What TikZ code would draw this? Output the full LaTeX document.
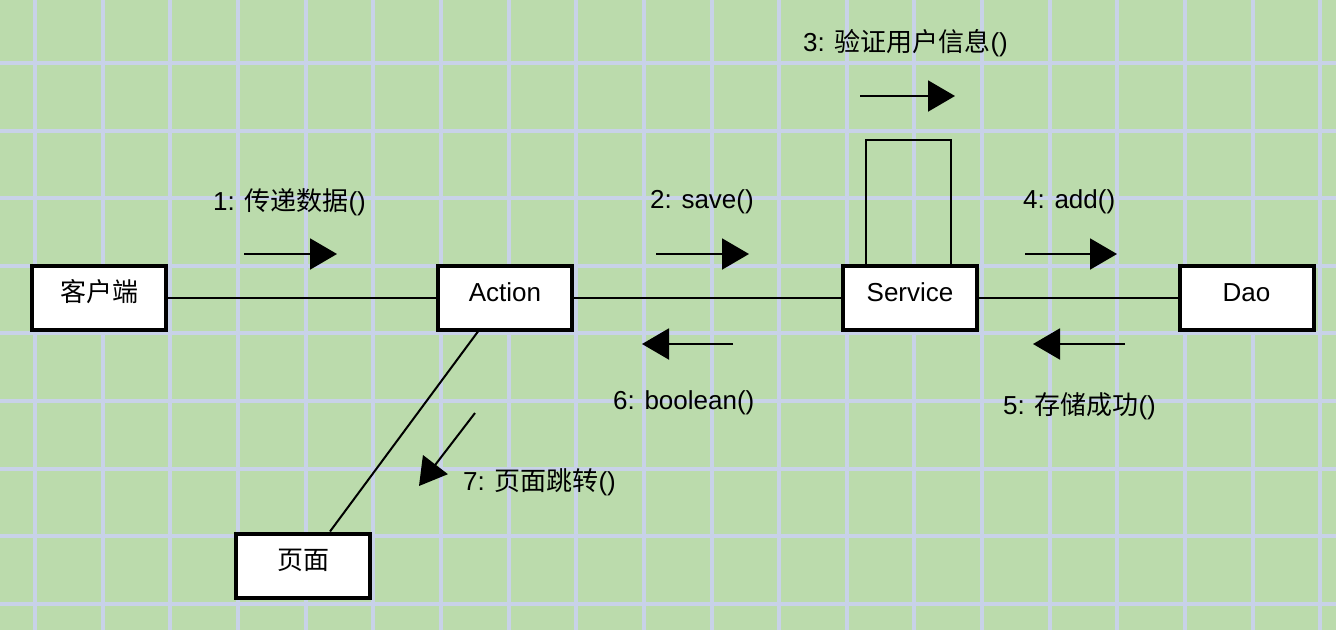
\documentclass[tikz,border=0pt]{standalone}
\usepackage{fontspec}
\setmainfont{Liberation Sans}
\newfontfamily\cjk{Noto Sans CJK SC}
\usetikzlibrary{arrows.meta,calc}
\definecolor{bgc}{RGB}{187,219,172}
\definecolor{gridc}{RGB}{200,210,232}
\begin{document}
\begin{tikzpicture}[x=1pt,y=-1pt,
  obj/.style={draw=black, line width=4pt, fill=white, minimum width=134pt, minimum height=64pt,
    inner sep=0pt, text height=18pt, text depth=10pt, font=\fontsize{26}{30}\selectfont},
  link/.style={line width=2pt, draw=black},
  msg/.style={line width=2pt, -{Triangle[length=27pt,width=31pt]}},
  lbl/.style={anchor=west, inner sep=0pt, font=\fontsize{26}{30}\selectfont}]
% background and grid
\fill[bgc] (0,0) rectangle (1336,630);
\useasboundingbox (0,0) rectangle (1336,630);
\foreach \k in {0,...,19}{
  \pgfmathsetmacro{\gx}{35+67.65*\k}
  \draw[gridc, line width=4pt] (\gx,0) -- (\gx,630);
}
\foreach \k in {0,...,8}{
  \pgfmathsetmacro{\gy}{63+67.6*\k}
  \draw[gridc, line width=4pt] (0,\gy) -- (1336,\gy);
}
% objects
\node[obj] (kh) at (99,297.5) {{\cjk 客户端}};
\node[obj] (action) at (505,297.5) {Action};
\node[obj] (service) at (910,297.5) {Service};
\node[obj] (dao) at (1246.5,297.5) {Dao};
\node[obj] (page) at (303,565.5) {{\cjk 页面}};
% links
\draw[link] (kh.east) -- (action.west);
\draw[link] (action.east) -- (service.west);
\draw[link] (service.east) -- (dao.west);
\draw[link] ($(action.south)+(-27,0)$) -- ($(page.north)+(27,0)$);
\draw[link] ($(service.north)+(-44,0)$) -- ++(0,-124) -| ($(service.north)+(41,0)$);
% message arrows
\coordinate (m1a) at (244,254); \coordinate (m1b) at (337,254);
\coordinate (m2a) at (656,254); \coordinate (m2b) at (749,254);
\coordinate (m3a) at (860,96);  \coordinate (m3b) at (955,96);
\coordinate (m4a) at (1025,254); \coordinate (m4b) at (1117,254);
\coordinate (m5a) at (1125,344); \coordinate (m5b) at (1033,344);
\coordinate (m6a) at (733,344); \coordinate (m6b) at (642,344);
\coordinate (m7a) at (475,413); \coordinate (m7b) at (419,486);
\draw[msg] (m1a) -- (m1b);
\draw[msg] (m2a) -- (m2b);
\draw[msg] (m3a) -- (m3b);
\draw[msg] (m4a) -- (m4b);
\draw[msg] (m5a) -- (m5b);
\draw[msg] (m6a) -- (m6b);
\draw[msg] (m7a) -- (m7b);
% labels
\node[lbl] (l1) at (213,202) {1: {\cjk 传递数据}()};
\node[lbl] (l2) at (650,202) {2: save()};
\node[lbl] (l3) at (803,43) {3: {\cjk 验证用户信息}()};
\node[lbl] (l4) at (1023,202) {4: add()};
\node[lbl] (l5) at (1003,406) {5: {\cjk 存储成功}()};
\node[lbl] (l6) at (613,403) {6: boolean()};
\node[lbl] (l7) at (463,482) {7: {\cjk 页面跳转}()};
\end{tikzpicture}
\end{document}
